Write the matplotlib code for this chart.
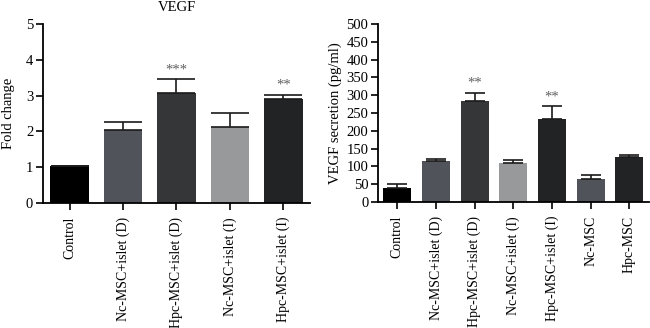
import matplotlib
matplotlib.use("Agg")
import matplotlib.pyplot as plt

plt.rcParams['font.family'] = ['Liberation Serif', 'DejaVu Serif']

# Left panel: VEGF fold change
left_groups = ["Control", "Nc-MSC+islet (D)", "Hpc-MSC+islet (D)", "Nc-MSC+islet (I)", "Hpc-MSC+islet (I)"]
left_values = [1.02, 2.04, 3.08, 2.13, 2.90]
left_errors = [0.0, 0.23, 0.37, 0.39, 0.12]
left_stars = ["", "", "***", "", "**"]
left_star_y = [0, 0, 3.72, 0, 3.30]
left_colors = ["#000000", "#50535a", "#353638", "#97999a", "#222325"]

# Right panel: VEGF secretion
right_groups = ["Control", "Nc-MSC+islet (D)", "Hpc-MSC+islet (D)", "Nc-MSC+islet (I)",
                "Hpc-MSC+islet (I)", "Nc-MSC", "Hpc-MSC"]
right_values = [40, 114, 284, 109, 232, 66, 126]
right_errors = [10, 6, 21, 8, 38, 10, 6]
right_stars = ["", "", "**", "", "**", "", ""]
right_star_y = [0, 0, 334, 0, 295, 0, 0]
right_colors = ["#000000", "#50535a", "#353638", "#97999a", "#222325", "#50535a", "#222325"]

fs = 10.5
fs_x = 10

fig = plt.figure(figsize=(6.5, 3.28), dpi=100)
ax1 = fig.add_axes([0.066, 0.381, 0.411, 0.546])
ax2 = fig.add_axes([0.5815, 0.384, 0.4165, 0.543])


def draw_panel(ax, groups, values, errors, stars, star_y, colors, ymax, step, capsize):
    x = list(range(len(groups)))
    ax.bar(x, values, width=0.72, color=colors, zorder=2)
    ax.errorbar(x, values, yerr=[[0] * len(errors), errors], fmt="none",
                ecolor="#1a1a1a", elinewidth=1.2, capsize=capsize, capthick=1.2, zorder=3)
    for xi, s, sy in zip(x, stars, star_y):
        if s:
            ax.text(xi, sy, s, ha="center", va="center", fontsize=fs, color="#606060")
    ax.set_xlim(-0.5, len(groups) - 0.5)
    ax.set_ylim(0, ymax)
    ax.set_yticks(range(0, ymax + 1, step))
    ax.set_xticks(x)
    ax.set_xticklabels(groups, rotation=90, fontsize=fs_x)
    ax.tick_params(axis="y", labelsize=fs, length=5, width=1.2, pad=2)
    ax.tick_params(axis="x", length=5, width=1.2, pad=5)
    for side in ["top", "right"]:
        ax.spines[side].set_visible(False)
    for side in ["left", "bottom"]:
        ax.spines[side].set_linewidth(1.3)


draw_panel(ax1, left_groups, left_values, left_errors, left_stars, left_star_y, left_colors, 5, 1, 14)
ax1.set_ylabel("Fold change", fontsize=fs, labelpad=8)
ax1.set_title("VEGF", fontsize=fs, pad=9)

draw_panel(ax2, right_groups, right_values, right_errors, right_stars, right_star_y, right_colors, 500, 50, 7)
ax2.set_ylabel("VEGF secretion (pg/ml)", fontsize=fs, labelpad=3)

fig.savefig("out.png", dpi=100)
